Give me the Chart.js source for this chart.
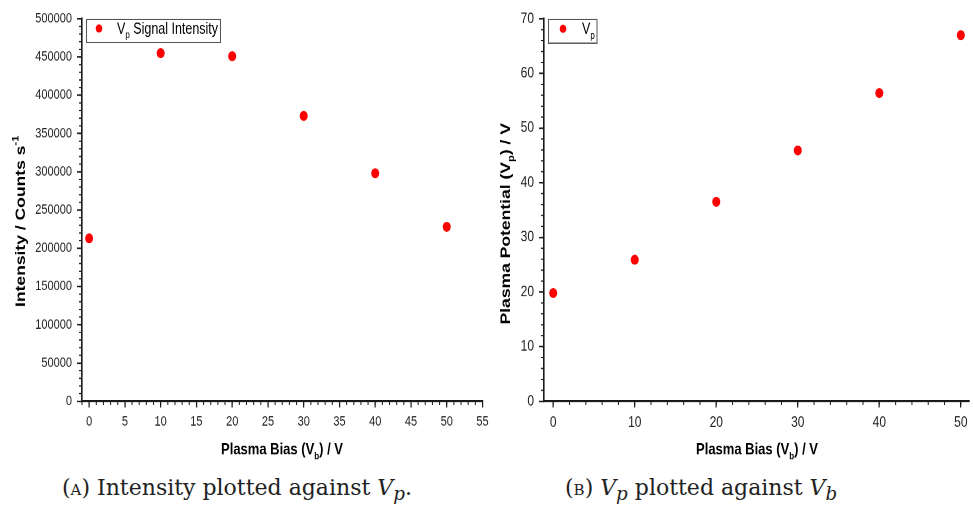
<!DOCTYPE html>
<html>
<head>
<meta charset="utf-8">
<script src="https://cdn.jsdelivr.net/npm/chart.js@4.4.1/dist/chart.umd.min.js"></script>
<style>
    html, body { margin: 0; padding: 0; background: #fff; }
    body { width: 973px; height: 508px; position: relative; overflow: hidden; }
    .painel { position: absolute; top: 0; transform: scaleY(1.25); transform-origin: 0 0; }
    .legenda-fig { position: absolute; top: 474px; font-family: 'DejaVu Serif', serif; font-size: 22px; line-height: 28px; color: #222; white-space: nowrap; }
    .legenda-fig .sc { font-variant: small-caps; }
</style>
</head>
<body>
<div class="painel" style="left:0;width:490px;height:372px"><canvas id="graficoA" width="490" height="372"></canvas></div>
<div class="painel" style="left:490px;width:483px;height:372px"><canvas id="graficoB" width="483" height="372"></canvas></div>
<div class="legenda-fig" style="left:62px">(<span class="sc">a</span>) Intensity plotted against <i>V<sub>p</sub></i>.</div>
<div class="legenda-fig" style="left:565px">(<span class="sc">b</span>) <i>V<sub>p</sub></i> plotted against <i>V<sub>b</sub></i></div>
<script>
// painel A: intensidade do sinal Vp
const biasA = [0, 10, 20, 30, 40, 50];
const intensidade = [213000, 455000, 451000, 373000, 298000, 228000];
const ticksXA = [0, 5, 10, 15, 20, 25, 30, 35, 40, 45, 50, 55];
const ticksYA = [0, 50000, 100000, 150000, 200000, 250000, 300000, 350000, 400000, 450000, 500000];

// painel B: potencial de plasma
const biasB = [0, 10, 20, 30, 40, 50];
const potencial = [19.8, 25.9, 36.5, 45.9, 56.4, 67.0];
const ticksXB = [0, 10, 20, 30, 40, 50];
const ticksYB = [0, 10, 20, 30, 40, 50, 60, 70];

const corEixo = '#1a1a1a';
const corTexto = '#222';
const vermelho = '#ff0000';

function desenharTexto(ctx, partes, x, y, tamanho, rotacao = 0, negrito = true) {
    const peso = negrito ? 'bold ' : '';
    const fonte = t => `${peso}${t}px 'Liberation Sans', Arial, sans-serif`;
    const itens = partes.map(([texto, tipo]) => {
        const t = tipo ? Math.round(tamanho * 0.62) : tamanho;
        ctx.font = fonte(t);
        return { texto, tipo, t, largura: ctx.measureText(texto).width };
    });
    const total = itens.reduce((s, item) => s + item.largura, 0);
    ctx.save();
    ctx.translate(x, y);
    ctx.rotate(rotacao);
    ctx.fillStyle = '#000';
    ctx.textBaseline = 'alphabetic';
    let cx = -total / 2;
    itens.forEach(item => {
        ctx.font = fonte(item.t);
        const dy = item.tipo === 'sub' ? tamanho * 0.3 : item.tipo === 'sup' ? -tamanho * 0.45 : 0;
        ctx.fillText(item.texto, cx, tamanho * 0.36 + dy);
        cx += item.largura;
    });
    ctx.restore();
    return total;
}

const extrasPlugin = {
    id: 'extras',
    afterDraw(chart, args, opts) {
        const ctx = chart.ctx;
        const sx = chart.scales.x;
        const sy = chart.scales.y;

        // tracos menores
        ctx.save();
        ctx.strokeStyle = corEixo;
        ctx.lineWidth = 1;
        const nx = Math.round((sx.max - sx.min) / opts.passoX) + 2;
        for (let i = -nx; i <= nx; i++) {
            const v = i * opts.passoX;
            if (v < sx.min || v > sx.max) continue;
            const px = sx.getPixelForValue(v);
            ctx.beginPath();
            ctx.moveTo(px, sx.top);
            ctx.lineTo(px, sx.top + 3);
            ctx.stroke();
        }
        const ny = Math.round((sy.max - sy.min) / opts.passoY) + 1;
        for (let i = 0; i <= ny; i++) {
            const v = sy.min + i * opts.passoY;
            if (v > sy.max) continue;
            const py = sy.getPixelForValue(v);
            ctx.beginPath();
            ctx.moveTo(sy.right, py);
            ctx.lineTo(sy.right - 3, py);
            ctx.stroke();
        }
        ctx.restore();

        // titulos dos eixos
        desenharTexto(ctx, opts.tituloX, opts.posTituloX[0], opts.posTituloX[1], 13);
        desenharTexto(ctx, opts.tituloY, opts.posTituloY[0], opts.posTituloY[1], 14, -Math.PI / 2);

        // caixa de legenda
        const [lx, ly, lw, lh] = opts.caixa;
        ctx.save();
        ctx.strokeStyle = '#555';
        ctx.lineWidth = 1;
        ctx.strokeRect(lx + 0.5, ly + 0.5, lw, lh);
        ctx.fillStyle = vermelho;
        ctx.beginPath();
        ctx.arc(lx + opts.pontoLegenda, ly + lh / 2 - 1.5, 3.3, 0, Math.PI * 2);
        ctx.fill();
        ctx.restore();
        const tamanho = opts.fonteLegenda;
        let larguraTexto = 0;
        opts.textoLegenda.forEach(([texto, tipo]) => {
            ctx.font = `${tipo ? Math.round(tamanho * 0.62) : tamanho}px 'Liberation Sans', Arial, sans-serif`;
            larguraTexto += ctx.measureText(texto).width;
        });
        desenharTexto(ctx, opts.textoLegenda, lx + opts.inicioTexto + larguraTexto / 2, ly + lh / 2 - 2, tamanho, 0, false);
    }
};

function eixo(min, max, ticks, tamanhoFonte, larguraFixa, alturaFixa) {
    return {
        type: 'linear',
        min,
        max,
        afterBuildTicks: scale => { scale.ticks = ticks.map(value => ({ value })); },
        afterFit: scale => {
            if (larguraFixa) scale.width = larguraFixa;
            if (alturaFixa) scale.height = alturaFixa;
            scale.paddingLeft = 0;
            scale.paddingRight = 0;
            scale.paddingTop = 0;
            scale.paddingBottom = 0;
        },
        border: { display: true, color: corEixo, width: 1.6 },
        grid: { drawOnChartArea: false, drawTicks: true, tickLength: 5, color: corEixo, lineWidth: 1.2 },
        ticks: {
            color: corTexto,
            padding: 5,
            maxRotation: 0,
            autoSkip: false,
            font: { family: "'Liberation Sans', Arial, sans-serif", size: tamanhoFonte },
            callback: value => String(value),
        },
        title: { display: false },
    };
}

function criarGrafico(id, xs, ys, config) {
    return new Chart(document.getElementById(id), {
        type: 'scatter',
        data: {
            datasets: [{
                data: xs.map((x, i) => ({ x, y: ys[i] })),
                pointStyle: 'circle',
                pointRadius: 4,
                backgroundColor: vermelho,
                borderWidth: 0,
            }],
        },
        options: {
            responsive: false,
            animation: false,
            devicePixelRatio: 2,
            layout: { padding: config.padding },
            plugins: {
                legend: { display: false },
                tooltip: { enabled: false },
                extras: config.extras,
            },
            scales: {
                x: { ...config.x, position: 'bottom' },
                y: { ...config.y, position: 'left' },
            },
        },
        plugins: [extrasPlugin],
    });
}

criarGrafico('graficoA', biasA, intensidade, {
    padding: { top: 15, right: 7.5, left: 0, bottom: 0 },
    x: eixo(-1, 55, ticksXA, 11, null, 51),
    y: eixo(0, 500000, ticksYA, 11, 82, null),
    extras: {
        passoX: 1,
        passoY: 10000,
        tituloX: [['Plasma Bias (V'], ['b', 'sub'], [') / V']],
        posTituloX: [282, 359],
        tituloY: [['Intensity / Counts s'], ['-1', 'sup']],
        posTituloY: [20, 177],
        caixa: [86, 15, 134, 18.5],
        pontoLegenda: 13,
        inicioTexto: 31,
        fonteLegenda: 12.5,
        textoLegenda: [['V'], ['p', 'sub'], [' Signal Intensity']],
    },
});

criarGrafico('graficoB', biasB, potencial, {
    padding: { top: 15, right: 0, left: 0, bottom: 0 },
    x: eixo(-1.13, 51, ticksXB, 12, null, 51),
    y: eixo(0, 70, ticksYB, 12, 54, null),
    extras: {
        passoX: 2,
        passoY: 2,
        tituloX: [['Plasma Bias (V'], ['b', 'sub'], [') / V']],
        posTituloX: [267, 359],
        tituloY: [['Plasma Potential (V'], ['p', 'sub'], [') / V']],
        posTituloY: [15, 179],
        caixa: [58, 15, 48.5, 19],
        pontoLegenda: 15,
        inicioTexto: 34,
        fonteLegenda: 12.5,
        textoLegenda: [['V'], ['p', 'sub']],
    },
});
</script>
</body>
</html>
